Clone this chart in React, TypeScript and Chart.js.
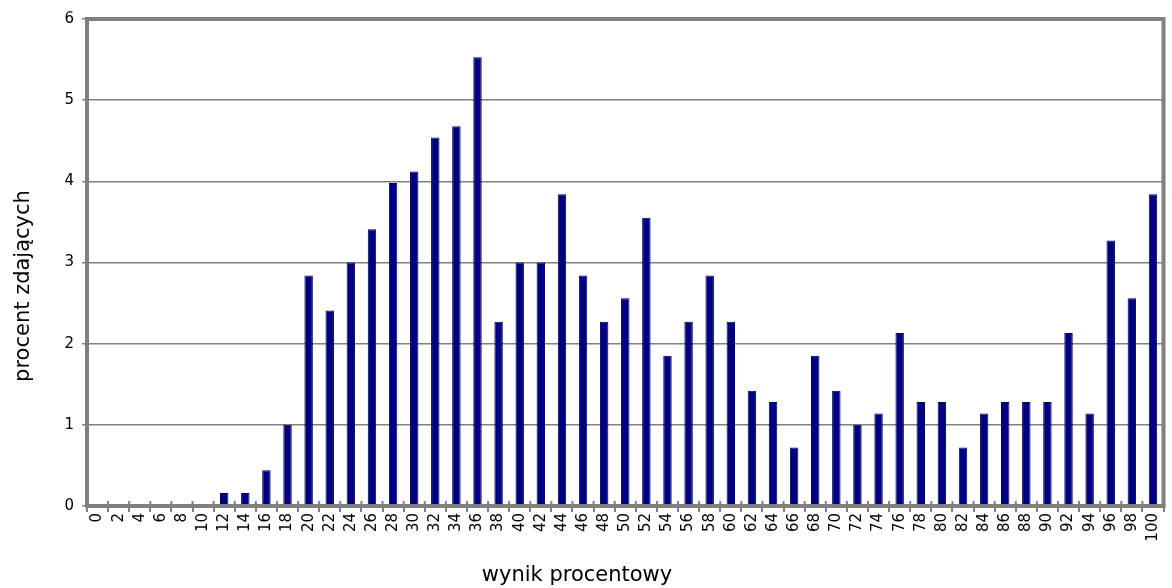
import React, { useEffect, useRef } from "react";
import { Chart, registerables } from "chart.js";

Chart.register(...registerables);

const categories: string[] = [
  "0","2","4","6","8","10","12","14","16","18","20","22","24","26","28","30","32","34","36","38","40",
  "42","44","46","48","50","52","54","56","58","60","62","64","66","68","70","72","74","76","78","80",
  "82","84","86","88","90","92","94","96","98","100",
];

const percentValues: number[] = [
  0, 0, 0, 0, 0, 0, 0.16, 0.16, 0.44, 1.0, 2.84, 2.41, 3.0, 3.41, 3.98, 4.12, 4.54, 4.68, 5.53, 2.27, 3.0,
  3.0, 3.84, 2.84, 2.27, 2.56, 3.55, 1.85, 2.27, 2.84, 2.27, 1.42, 1.28, 0.72, 1.85, 1.42, 1.0, 1.14, 2.13, 1.28, 1.28,
  0.72, 1.14, 1.28, 1.28, 1.28, 2.13, 1.14, 3.27, 2.56, 3.84,
];

const yTitle = "procent zdających";
const xTitle = "wynik procentowy";
const FONT = "'DejaVu Sans', 'Liberation Sans', sans-serif";

const frame = {
  id: "frame",
  afterDatasetsDraw(chart: any) {
    const { ctx, chartArea } = chart;
    ctx.save();
    ctx.strokeStyle = "#808080";
    ctx.lineWidth = 4;
    ctx.beginPath();
    ctx.moveTo(chartArea.left, chartArea.bottom);
    ctx.lineTo(chartArea.left, chartArea.top);
    ctx.lineTo(chartArea.right, chartArea.top);
    ctx.lineTo(chartArea.right, chartArea.bottom);
    ctx.stroke();
    ctx.beginPath();
    ctx.moveTo(chartArea.left - 2, chartArea.bottom);
    ctx.lineTo(chartArea.right + 2, chartArea.bottom);
    ctx.stroke();
    // small tick stubs above the axis between categories
    const xs = chart.scales.x;
    ctx.lineWidth = 2;
    ctx.beginPath();
    for (let i = 0; i <= categories.length; i++) {
      const px = xs.getPixelForTick(Math.min(i, categories.length - 1)) +
        (i === categories.length ? 0.5 : -0.5) * (xs.width / categories.length);
      ctx.moveTo(px, chartArea.bottom - 5);
      ctx.lineTo(px, chartArea.bottom);
    }
    ctx.stroke();
    ctx.restore();
  },
  afterDraw(chart: any) {
    const { ctx } = chart;
    ctx.save();
    ctx.fillStyle = "#000";
    ctx.font = `21px ${FONT}`;
    ctx.textAlign = "center";
    ctx.textBaseline = "middle";
    ctx.fillText(xTitle, 577, 576);
    ctx.translate(24, 286);
    ctx.rotate(-Math.PI / 2);
    ctx.fillText(yTitle, 0, 0);
    ctx.restore();
  },
};

export default function App() {
  const ref = useRef<HTMLCanvasElement>(null);
  useEffect(() => {
    if (!ref.current) return;
    const chart = new Chart(ref.current, {
      type: "bar",
      data: {
        labels: categories,
        datasets: [
          {
            data: percentValues,
            backgroundColor: "#000080",
            borderColor: "#00005a",
            borderWidth: 1,
            categoryPercentage: 1,
            barPercentage: 0.4,
          },
        ],
      },
      options: {
        animation: false,
        responsive: true,
        maintainAspectRatio: false,
        layout: { padding: { top: 19, right: 4, left: 0, bottom: 0 } },
        plugins: { legend: { display: false }, tooltip: { enabled: false } },
        scales: {
          x: {
            offset: true,
            grid: {
              offset: true,
              drawOnChartArea: false,
              drawTicks: true,
              tickLength: 6,
              color: "#808080",
              lineWidth: 2,
            },
            border: { display: false },
            ticks: {
              autoSkip: false,
              maxRotation: 90,
              minRotation: 90,
              color: "#000",
              padding: 1,
              font: { family: FONT, size: 15 },
            },
            afterFit: (s: any) => {
              s.height = 82;
            },
          },
          y: {
            min: 0,
            max: 6,
            ticks: {
              stepSize: 1,
              color: "#000",
              padding: 8,
              font: { family: FONT, size: 15 },
            },
            grid: {
              color: "#808080",
              lineWidth: 1.5,
              tickLength: 5,
            },
            border: { display: false },
            afterFit: (s: any) => {
              s.width = 87;
            },
          },
        },
      },
      plugins: [frame],
    });
    return () => chart.destroy();
  }, []);
  return (
    <div style={{ position: "fixed", left: 0, top: 0, width: 1172, height: 588, background: "#fff" }}>
      <canvas ref={ref} />
    </div>
  );
}
